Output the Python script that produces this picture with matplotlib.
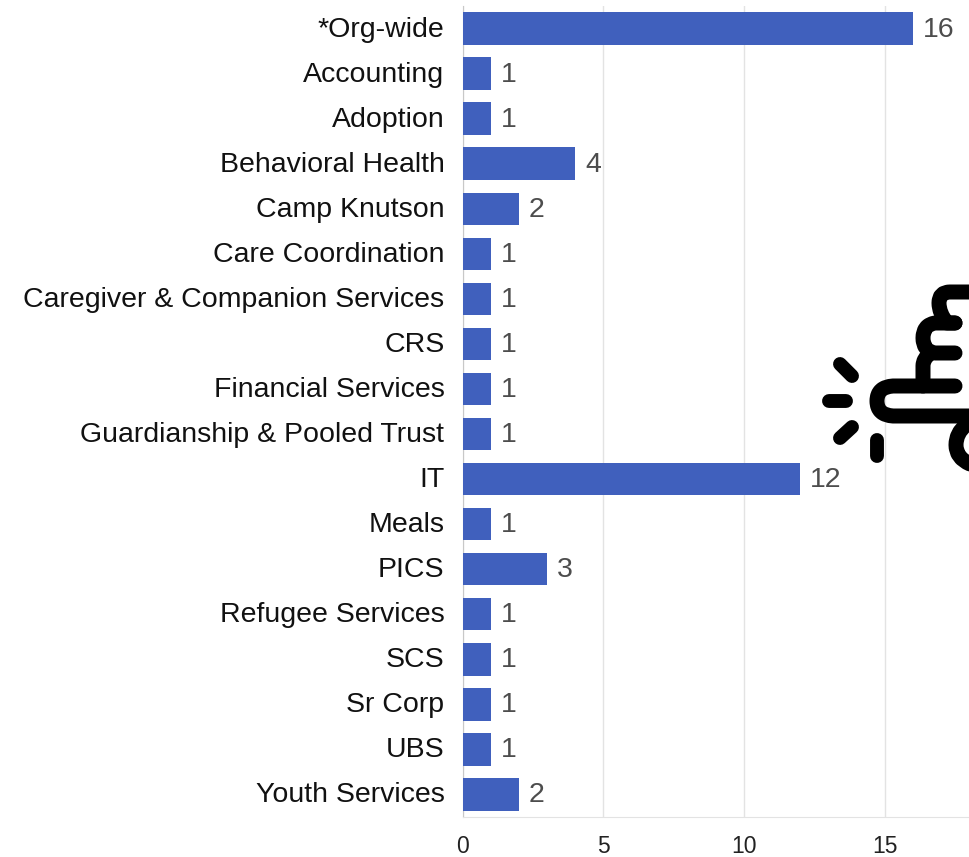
import matplotlib.pyplot as plt
from matplotlib.patches import PathPatch
from matplotlib.path import Path
from matplotlib.transforms import ScaledTranslation

plt.rcParams["font.family"] = ["Liberation Sans", "DejaVu Sans"]

WIDTH = 969
HEIGHT = 857

categories = ["*Org-wide", "Accounting", "Adoption", "Behavioral Health", "Camp Knutson",
              "Care Coordination", "Caregiver & Companion Services", "CRS", "Financial Services",
              "Guardianship & Pooled Trust", "IT", "Meals", "PICS", "Refugee Services", "SCS",
              "Sr Corp", "UBS", "Youth Services"]
counts = [16, 1, 1, 4, 2, 1, 1, 1, 1, 1, 12, 1, 3, 1, 1, 1, 1, 2]
x_ticks = [0, 5, 10, 15]


def px_path(fig, points, width):
    # icon is drawn in figure pixels; points are (x, y) lines or (cx, cy, x, y) curves
    verts = [(points[0][0] / WIDTH, 1 - points[0][1] / HEIGHT)]
    codes = [Path.MOVETO]
    for p in points[1:]:
        if len(p) == 2:
            verts.append((p[0] / WIDTH, 1 - p[1] / HEIGHT))
            codes.append(Path.LINETO)
        else:
            verts.append((p[0] / WIDTH, 1 - p[1] / HEIGHT))
            verts.append((p[2] / WIDTH, 1 - p[3] / HEIGHT))
            codes += [Path.CURVE3, Path.CURVE3]
    fig.add_artist(PathPatch(Path(verts, codes), fill=False, edgecolor="black", linewidth=width,
                             capstyle="round", joinstyle="round", transform=fig.transFigure))


def main():
    fig = plt.figure(figsize=(WIDTH / 100, HEIGHT / 100), dpi=100)
    ax = fig.add_axes([462.5 / WIDTH, 1 - 817 / HEIGHT, (WIDTH - 462.5) / WIDTH, 811 / HEIGHT])

    rows = list(range(len(categories)))
    ax.barh(rows, counts, height=0.72, color="#4060bd", zorder=3)
    for row, count in zip(rows, counts):
        ax.annotate(str(count), (count, row), xytext=(10, -1), textcoords="offset pixels",
                    va="center", ha="left", fontsize=20.5, color="#4d4d4d")

    ax.set_xlim(0, 18)
    ax.set_ylim(len(categories) - 0.5, -0.5)
    ax.set_yticks(rows, categories, fontsize=20.5, color="#111111")
    ax.set_xticks(x_ticks, [str(t) for t in x_ticks], fontsize=16.5, color="#222222")
    ax.tick_params(axis="both", length=0)
    ax.tick_params(axis="y", pad=13)
    ax.tick_params(axis="x", pad=13)
    # labels sit a little above the bar centres in the original
    lift = ScaledTranslation(0, 2 / 100, fig.dpi_scale_trans)
    for label in ax.get_yticklabels():
        label.set_transform(label.get_transform() + lift)
    ax.grid(axis="x", color="#e3e3e3", linewidth=1, zorder=0)
    ax.set_axisbelow(True)
    for side in ["top", "right"]:
        ax.spines[side].set_visible(False)
    ax.spines["left"].set_color("#c8c8c8")
    ax.spines["bottom"].set_color("#e3e3e3")

    # rays of the hand icon
    px_path(fig, [(840, 364), (852, 376)], 10)
    px_path(fig, [(829, 401), (846, 401)], 10)
    px_path(fig, [(852, 427), (840, 438)], 10)
    px_path(fig, [(877, 440), (877, 456)], 10)

    # fingers and palm, cut off at the right edge
    px_path(fig, [(970, 292), (950, 292), (939, 292, 939, 303), (939, 313, 947, 323), (955, 323)], 10.8)
    px_path(fig, [(955, 323), (935, 323), (923, 325, 923, 338), (923, 351, 935, 353), (955, 353)], 10.8)
    px_path(fig, [(931, 353), (923, 358, 923, 366), (923, 386)], 10.8)
    px_path(fig, [(955, 386), (893, 386), (877, 387, 877, 401), (877, 415, 893, 416), (970, 416)], 10.8)
    px_path(fig, [(966, 425), (956, 433, 956, 445), (956, 458, 970, 464)], 10.8)

    fig.savefig("out.png", dpi=100)


if __name__ == "__main__":
    main()
